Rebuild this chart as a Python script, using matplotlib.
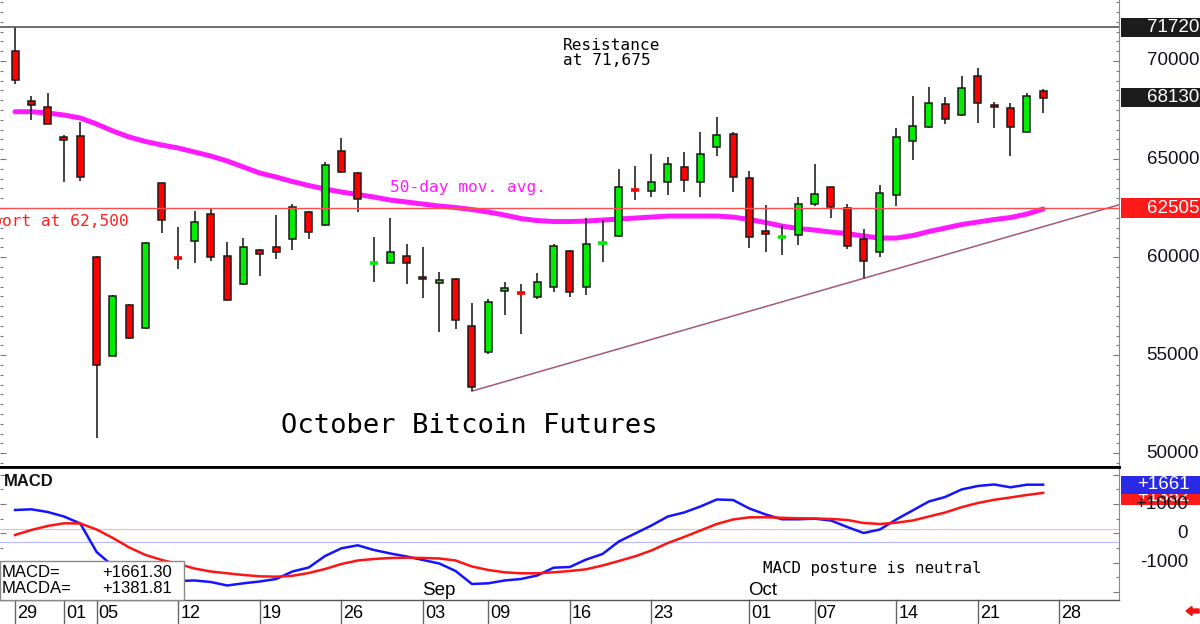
import matplotlib
matplotlib.use('Agg')
import matplotlib.pyplot as plt
import matplotlib.transforms as mtransforms
from matplotlib.patches import Rectangle, FancyArrow
from matplotlib.ticker import MultipleLocator
import numpy as np

# ---------------- data ----------------
opens = [70510, 67975, 67670, 66140, 66175, 60019, 54970, 57556, 56383, 63763,
         59980, 60820, 62182, 60055, 58612, 60361, 60499, 60907, 62299, 61636,
         65425, 64303, 59700, 59714, 60070, 59000, 58663, 58897, 56485, 55144,
         58270, 58190, 57980, 58490, 60310, 58459, 60680, 61090, 63460, 63370,
         63844, 64610, 63844, 65599, 66277, 64018, 61330, 60990, 61126, 62692,
         63559, 62518, 60907, 60244, 63166, 65935, 66649, 67792, 67246, 69250,
         67756, 67588, 66394, 68485]
highs = [71720, 68230, 68353, 66226, 66904, 60050, 58050, 57600, 60780, 63780,
         61550, 62366, 62488, 60784, 60988, 60400, 62146, 62706, 62350, 64834,
         66058, 64330, 61039, 61978, 60667, 60499, 59255, 58930, 57674, 57862,
         58713, 58627, 59204, 60667, 60340, 61978, 61891, 64492, 64645, 65257,
         65120, 65374, 66394, 67129, 66394, 64405, 62656, 61636, 63080, 64747,
         63600, 62707, 61417, 63676, 66568, 68230, 68689, 68149, 69235, 69628,
         67925, 67843, 68353, 68557]
lows = [68812, 66991, 66770, 63845, 63900, 50758, 54950, 55850, 56350, 61213,
        59377, 59683, 59815, 57780, 58580, 59035, 59902, 60361, 60907, 61600,
        64300, 62315, 58744, 59700, 58652, 57898, 56194, 56332, 53170, 55050,
        57046, 56062, 57847, 58235, 57980, 58066, 59734, 61040, 62911, 63049,
        63166, 63334, 63079, 65170, 63304, 60448, 60275, 60130, 60616, 62620,
        61978, 60412, 58918, 59989, 62620, 64951, 66600, 66772, 67200, 66853,
        66568, 65170, 66313, 67333]
closes = [69031, 67740, 66787, 65970, 64100, 54511, 58015, 55889, 60733, 61891,
          59900, 61789, 59989, 57811, 60499, 60142, 60286, 62569, 61294, 64696,
          64324, 62947, 59740, 60244, 59683, 58882, 58831, 56791, 53359, 57695,
          58439, 58120, 58713, 60565, 58204, 60652, 60720, 63589, 63390, 63814,
          64732, 63931, 65242, 66226, 64068, 61009, 61160, 61030, 62692, 63203,
          62569, 60580, 59800, 63284, 66140, 66700, 67843, 67042, 68608, 67843,
          67639, 66619, 68215, 68130]
ma50 = [67414, 67414, 67348, 67246, 67093, 66787, 66430, 66124, 65895, 65716,
        65563, 65359, 65155, 64900, 64594, 64288, 64084, 63855, 63651, 63472,
        63319, 63192, 63064, 62911, 62809, 62707, 62605, 62529, 62427, 62299,
        62146, 61968, 61866, 61815, 61815, 61840, 61891, 61942, 61993, 62044,
        62095, 62095, 62095, 62095, 62044, 61917, 61764, 61585, 61458, 61381,
        61279, 61203, 61075, 60973, 60973, 61100, 61305, 61483, 61662, 61789,
        61917, 62019, 62197, 62452]
macd = [796, 820, 728, 574, 335, -639, -1118, -1459, -1596, -1630,
        -1630, -1613, -1665, -1784, -1709, -1647, -1562, -1306, -1169, -776,
        -513, -410, -571, -690, -793, -913, -1032, -1289, -1733, -1709,
        -1613, -1562, -1442, -1176, -1152, -896, -708, -280, -7, 267,
        574, 711, 916, 1155, 1138, 848, 643, 479, 479, 499,
        437, 215, 10, 130, 472, 779, 1087, 1241, 1497, 1617,
        1668, 1572, 1661, 1661.30]
macda = [-58, 113, 250, 342, 335, 130, -161, -485, -742, -913,
         -1049, -1203, -1306, -1367, -1425, -1470, -1483, -1453, -1357, -1220,
         -1049, -930, -878, -844, -834, -844, -861, -930, -1135, -1254,
         -1333, -1367, -1367, -1333, -1289, -1230, -1101, -947, -786, -588,
         -332, -126, 96, 318, 472, 547, 547, 530, 513, 506,
         489, 455, 352, 318, 362, 437, 574, 711, 892, 1036,
         1145, 1224, 1309, 1381.81]

date_tick_idx = [0, 3, 5, 10, 15, 20, 25, 29, 34, 39, 45, 49, 54, 59, 64]
date_tick_lbl = ["29", "01", "05", "12", "19", "26", "03", "09", "16", "23",
                 "01", "07", "14", "21", "28"]
month_idx = [25, 45]
month_lbl = ["Sep", "Oct"]
price_ticks = [70000, 65000, 60000, 55000, 50000]
macd_ticks = [1000, 0, -1000]
macd_tick_lbl = ["+1000", "0", "-1000"]
resistance_level = 71720
support_level = 62505
trend_anchor_idx = [28, 52]   # lows that define the up trendline
macd_ref_lines = [137, -287]

# ---------------- figure ----------------
W, H = 1200, 624
fig = plt.figure(figsize=(12, 6.24), dpi=100)
fig.patch.set_facecolor('white')
AXW = 1119
ax = fig.add_axes([0, 1 - 467 / H, AXW / W, 467 / H])
ax2 = fig.add_axes([0, 1 - 600 / H, AXW / W, 133 / H], sharex=ax)

XMIN, XMAX = -0.92, 67.65
ax.set_xlim(XMIN, XMAX)
ax.set_ylim(49300, 73110)
ax2.set_ylim(-2280, 2266)

SANS = ['Liberation Sans', 'DejaVu Sans']
MONO = ['DejaVu Sans Mono', 'DejaVu Sans']

x = np.arange(len(opens))

# MA line (under candles)
ax.plot(x, ma50, color='#ff1aff', lw=3.6, zorder=2, solid_capstyle='round')

# trendline through two lows, extended to right edge
x0, x1 = trend_anchor_idx
y0, y1 = lows[x0], lows[x1]
slope = (y1 - y0) / (x1 - x0)
ax.plot([x0, XMAX], [y0, y0 + slope * (XMAX - x0)], color='#a3587a', lw=1.1, zorder=2)

# candles
for i in x:
    o, h, l, c = opens[i], highs[i], lows[i], closes[i]
    col = '#00ee00' if c >= o else '#ff0000'
    ax.vlines(i, l, h, color='#111111', lw=1.1, zorder=3)
    if abs(c - o) < 100:
        ax.hlines((o + c) / 2, i - 0.25, i + 0.25, color=col, lw=2.6, zorder=4)
    else:
        ax.bar(i, abs(c - o), bottom=min(o, c), width=0.43, color=col,
               edgecolor='#1a1a1a', linewidth=1.1, zorder=4)

# horizontal levels
ax.axhline(resistance_level, color='#555555', lw=1.2, zorder=5)
ax.axhline(support_level, color='#ff4d4d', lw=1.0, zorder=6)

# texts main panel
ax.text(33.58, 70561, "Resistance", family=MONO, fontsize=11.6, color='black', ha='left', va='baseline')
ax.text(33.58, 69771, "at 71,675", family=MONO, fontsize=11.6, color='black', ha='left', va='baseline')
ax.text(22.95, 63322, "50-day mov. avg.", family=MONO, fontsize=11.6, color='#ff1aff', ha='left', va='baseline')
ax.text(6.95, 61588, "Support at 62,500", family=MONO, fontsize=11.6, color='#ff2020', ha='right', va='baseline', clip_on=False)
ax.text(16.3, 51020, "October Bitcoin Futures", family=MONO, fontsize=19.5, color='black', ha='left', va='baseline')

# axes styling main
for s in ['top', 'left']:
    ax.spines[s].set_visible(False)
ax.spines['right'].set_color('#8a8a8a')
ax.spines['bottom'].set_color('black')
ax.spines['bottom'].set_linewidth(2)
ax.set_xticks([])
ax.yaxis.set_major_locator(MultipleLocator(5000))
ax.yaxis.set_minor_locator(MultipleLocator(500))
ax.tick_params(axis='y', which='both', left=True, right=True, direction='in',
               labelleft=False, labelright=False, color='#777777', width=0.8)
ax.tick_params(axis='y', which='major', length=4)
ax.tick_params(axis='y', which='minor', length=2.5)

tr = mtransforms.blended_transform_factory(ax.transAxes, ax.transData)
for v in price_ticks:
    ax.text(1199 / AXW, v, f"{v}", transform=tr, ha='right', va='center',
            family=SANS, fontsize=13.5, color='#111122', clip_on=False)

upp = (73110 - 49300) / 467.0  # units per pixel main


def box_label(axis, trans, value, text, fc, hpx, upx, right_px, z):
    hh = hpx * upx
    r = Rectangle((1121 / AXW, value - hh / 2), 90 / AXW, hh, transform=trans,
                  facecolor=fc, edgecolor='none', clip_on=False, zorder=z)
    axis.add_artist(r)
    axis.text(right_px / AXW, value, text, transform=trans, ha='right', va='center',
              family=SANS, fontsize=13.5, color='white', clip_on=False, zorder=z + 0.5)


box_label(ax, tr, resistance_level, "71720", '#1c1c1c', 19, upp, 1199, 20)
box_label(ax, tr, closes[-1], "68130", '#1c1c1c', 19, upp, 1199, 20)
box_label(ax, tr, support_level, "62505", '#ff1a1a', 20, upp, 1199, 20)

# ---------------- MACD panel ----------------
ax2.axhline(macd_ref_lines[0], color='#ffb3b3', lw=0.8, zorder=1)
ax2.axhline(macd_ref_lines[1], color='#b8b8ff', lw=0.8, zorder=1)
ax2.plot(x, macd, color='#1414ff', lw=1.8, zorder=3)
ax2.plot(x, macda, color='#ff1414', lw=1.8, zorder=3)

for s in ['left']:
    ax2.spines[s].set_visible(False)
ax2.spines['top'].set_color('black')
ax2.spines['top'].set_linewidth(2)
ax2.spines['right'].set_color('#8a8a8a')
ax2.spines['bottom'].set_color('#555555')
ax2.spines['bottom'].set_linewidth(1)
ax2.tick_params(axis='x', which='both', bottom=False, labelbottom=False)
ax2.yaxis.set_major_locator(MultipleLocator(1000))
ax2.yaxis.set_minor_locator(MultipleLocator(500))
ax2.tick_params(axis='y', which='both', left=True, right=True, direction='in',
                labelleft=False, labelright=False, color='#777777', width=0.8)
ax2.tick_params(axis='y', which='major', length=4)
ax2.tick_params(axis='y', which='minor', length=2.5)

tr2 = mtransforms.blended_transform_factory(ax2.transAxes, ax2.transData)
upp2 = (2266 + 2280) / 133.0

# boxes for MACD values (red first, then labels, then blue)
box_label(ax2, tr2, macda[-1] - 3.3 * upp2, "+1382", '#ff1a1a', 18, upp2, 1190, 20)
for v, lbl in zip(macd_ticks, macd_tick_lbl):
    ax2.text(1188 / AXW, v, lbl, transform=tr2, ha='right', va='center',
             family=SANS, fontsize=13.5, color='#111122', clip_on=False, zorder=21)
box_label(ax2, tr2, macd[-1], "+1661", '#2a2ae6', 18, upp2, 1190, 22)

ax2.text(4 / AXW, (600 - 486) / 133, "MACD", transform=ax2.transAxes, family=SANS,
         fontsize=12, fontweight='bold', color='#111111', ha='left', va='baseline')
ax2.text(45.85, -1347, "MACD posture is neutral", family=MONO, fontsize=11.4,
         color='black', ha='left', va='baseline')

# month labels
for i, lbl in zip(month_idx, month_lbl):
    ax2.text(i - 0.05, -2106, lbl, family=SANS, fontsize=13.5, color='black',
             ha='left', va='baseline')

# legend box
ax2.add_artist(Rectangle((0, 0), 184 / AXW, (600 - 560.7) / 133, transform=ax2.transAxes,
                         facecolor='white', edgecolor='#8a8a8a', lw=1, zorder=10, clip_on=False))
ax2.text(2 / AXW, (600 - 576.7) / 133, "MACD=", transform=ax2.transAxes, family=SANS,
         fontsize=12, color='black', ha='left', va='baseline', zorder=11)
ax2.text(172 / AXW, (600 - 576.7) / 133, f"{macd[-1]:+.2f}", transform=ax2.transAxes, family=SANS,
         fontsize=12, color='black', ha='right', va='baseline', zorder=11)
ax2.text(2 / AXW, (600 - 593.3) / 133, "MACDA=", transform=ax2.transAxes, family=SANS,
         fontsize=12, color='black', ha='left', va='baseline', zorder=11)
ax2.text(172 / AXW, (600 - 593.3) / 133, f"{macda[-1]:+.2f}", transform=ax2.transAxes, family=SANS,
         fontsize=12, color='black', ha='right', va='baseline', zorder=11)

# date strip below MACD
trx = mtransforms.blended_transform_factory(ax2.transData, ax2.transAxes)
for i, lbl in zip(date_tick_idx, date_tick_lbl):
    ax2.plot([i, i], [0, -0.18], transform=trx, color='#666666', lw=1, clip_on=False)
    ax2.text(i + 0.12, (600 - 618.3) / 133, lbl, transform=trx, family=SANS, fontsize=13,
             color='black', ha='left', va='baseline', clip_on=False)

# small red arrow bottom-right
fig.patches.append(FancyArrow(1199 / W, 1 - 611 / H, -13 / W, 0, width=4 / H,
                              head_width=9 / H, head_length=6 / W,
                              length_includes_head=True, transform=fig.transFigure,
                              color='#ee1111'))

fig.savefig('out.png', dpi=100)
